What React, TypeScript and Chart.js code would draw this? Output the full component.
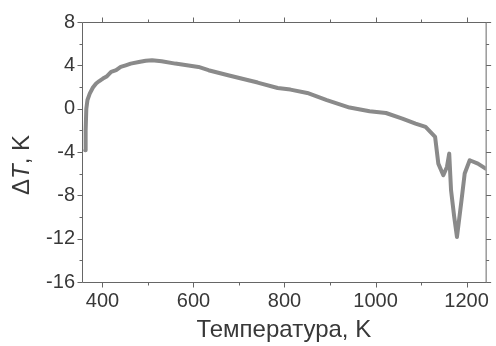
import React, { useEffect, useRef } from "react";
import { Chart, registerables } from "chart.js";

Chart.register(...registerables);

const temperatures = [362, 363, 364.5, 367, 372, 379, 386, 393, 401, 410, 419, 430, 440, 451, 462, 480, 495, 509, 530, 560, 611, 633, 676, 741, 785, 813, 850, 893, 943, 987, 1023, 1059, 1088, 1110, 1131, 1138, 1149, 1157, 1162, 1166, 1173, 1179, 1189, 1196, 1207, 1225, 1242];
const deltaT = [-3.84, -2.0, 0.0, 0.8, 1.39, 1.95, 2.32, 2.55, 2.78, 3.0, 3.39, 3.55, 3.85, 4.0, 4.16, 4.3, 4.42, 4.47, 4.38, 4.16, 3.85, 3.55, 3.08, 2.41, 1.91, 1.76, 1.45, 0.78, 0.1, -0.24, -0.4, -0.91, -1.38, -1.69, -2.61, -5.07, -6.15, -5.38, -4.15, -7.53, -10.0, -11.85, -8.46, -5.99, -4.76, -5.07, -5.53];

const xTicks = [400, 500, 600, 700, 800, 900, 1000, 1100, 1200];
const xLabelTicks = [400, 600, 800, 1000, 1200];
const yTicks = [-16, -14, -12, -10, -8, -6, -4, -2, 0, 2, 4, 6, 8];
const yLabelTicks = [-16, -12, -8, -4, 0, 4, 8];

const xTitle = "Температура, K";
const yTitleParts = ["Δ", "T", ", K"];

const AXIS_COLOR = "#666";
const TEXT_COLOR = "#383838";
const FONT = "'Liberation Sans', Arial, sans-serif";

const framePlugin = {
  id: "frameTicks",
  afterDraw(chart: any) {
    const { ctx, chartArea } = chart;
    const xs = chart.scales.x;
    const ys = chart.scales.y;
    const { left, right, top, bottom } = chartArea;
    ctx.save();
    ctx.strokeStyle = AXIS_COLOR;
    ctx.lineWidth = 1;
    ctx.beginPath();
    ctx.rect(left + 0.5, top + 0.5, right - left, bottom - top);
    ctx.stroke();
    ctx.beginPath();
    xTicks.forEach((v) => {
      const px = Math.round(xs.getPixelForValue(v)) + 0.5;
      const len = xLabelTicks.includes(v) ? 5 : 3;
      ctx.moveTo(px, bottom + 0.5);
      ctx.lineTo(px, bottom + 0.5 + len);
      ctx.moveTo(px, top + 0.5);
      ctx.lineTo(px, top + 0.5 - len);
    });
    yTicks.forEach((v) => {
      const py = Math.round(ys.getPixelForValue(v)) + 0.5;
      const len = yLabelTicks.includes(v) ? 5 : 3;
      ctx.moveTo(left + 0.5, py);
      ctx.lineTo(left + 0.5 - len, py);
      ctx.moveTo(right + 0.5, py);
      ctx.lineTo(right + 0.5 + len, py);
    });
    ctx.stroke();

    // titles
    ctx.fillStyle = TEXT_COLOR;
    ctx.textBaseline = "middle";
    ctx.textAlign = "center";
    ctx.font = `24px ${FONT}`;
    ctx.fillText(xTitle, (left + right) / 2, 330);

    ctx.translate(22, 165);
    ctx.rotate(-Math.PI / 2);
    const fonts = [`24px ${FONT}`, `italic 24px ${FONT}`, `24px ${FONT}`];
    let total = 0;
    const widths = yTitleParts.map((t, i) => {
      ctx.font = fonts[i];
      const w = ctx.measureText(t).width;
      total += w;
      return w;
    });
    let x = -total / 2;
    ctx.textAlign = "left";
    yTitleParts.forEach((t, i) => {
      ctx.font = fonts[i];
      ctx.fillText(t, x, 0);
      x += widths[i];
    });
    ctx.restore();
  },
};

export default function App() {
  const canvasRef = useRef<HTMLCanvasElement | null>(null);

  useEffect(() => {
    if (!canvasRef.current) return;
    const chart = new Chart(canvasRef.current, {
      type: "line",
      data: {
        datasets: [
          {
            data: temperatures.map((t, i) => ({ x: t, y: deltaT[i] })),
            borderColor: "#8a8a8a",
            borderWidth: 4,
            pointRadius: 0,
            tension: 0,
            borderCapStyle: "round",
            borderJoinStyle: "round",
          },
        ],
      },
      plugins: [framePlugin],
      options: {
        animation: false,
        responsive: false,
        maintainAspectRatio: false,
        layout: { padding: { top: 22, right: 5, left: 0, bottom: 0 } },
        plugins: { legend: { display: false }, tooltip: { enabled: false } },
        scales: {
          x: {
            type: "linear",
            min: 355,
            max: 1242,
            grid: { display: false, drawTicks: false },
            border: { display: false },
            afterBuildTicks: (scale: any) => {
              scale.ticks = xTicks.map((v) => ({ value: v }));
            },
            afterFit: (scale: any) => {
              scale.height = 64;
            },
            ticks: {
              autoSkip: false,
              maxRotation: 0,
              padding: 7,
              color: TEXT_COLOR,
              font: { family: FONT, size: 20 },
              callback: (v: any) => (xLabelTicks.includes(Number(v)) ? String(v) : ""),
            },
          },
          y: {
            type: "linear",
            min: -16,
            max: 8,
            grid: { display: false, drawTicks: false },
            border: { display: false },
            afterBuildTicks: (scale: any) => {
              scale.ticks = yTicks.map((v) => ({ value: v }));
            },
            afterFit: (scale: any) => {
              scale.width = 82;
            },
            ticks: {
              autoSkip: false,
              padding: 7,
              color: TEXT_COLOR,
              font: { family: FONT, size: 20 },
              callback: (v: any) => (yLabelTicks.includes(Number(v)) ? String(v) : ""),
            },
          },
        },
      },
    } as any);
    return () => chart.destroy();
  }, []);

  return (
    <div style={{ position: "fixed", left: 0, top: 0, width: 496, height: 346, background: "#fff" }}>
      <canvas ref={canvasRef} width={496} height={346} style={{ width: 496, height: 346, display: "block" }} />
    </div>
  );
}
